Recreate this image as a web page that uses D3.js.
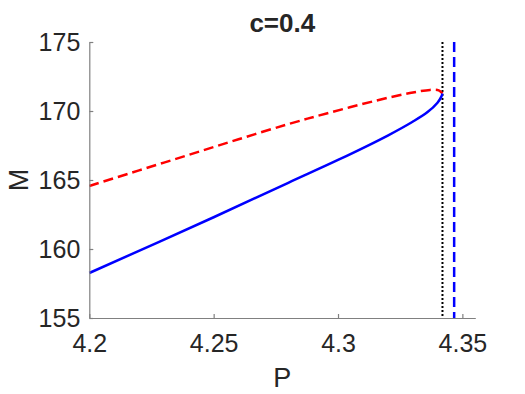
<!DOCTYPE html>
<html>
<head>
<meta charset="utf-8">
<script src="https://cdn.jsdelivr.net/npm/d3@7"></script>
<style>
    body { margin: 0; background: #fff; }
    svg text { font-family: "Liberation Sans", Arial, sans-serif; fill: #262626; }
</style>
</head>
<body>
<div id="chart"></div>
<script>
// values
var TITLE = 'c=0.4',
    X_LABEL = 'P',
    Y_LABEL = 'M';

var x_ticks = [4.2, 4.25, 4.3, 4.35],
    y_ticks = [155, 160, 165, 170, 175];

// unstable branch (red dashed)
var red_p = [4.2, 4.22, 4.24, 4.26, 4.28, 4.2954, 4.3155, 4.3289, 4.337, 4.3405, 4.342],
    red_m = [164.57, 165.7, 166.82, 167.95, 169.05, 169.82, 170.76, 171.3, 171.53, 171.5, 171.27];

// stable branch (blue solid)
var blue_p = [4.2, 4.25, 4.28, 4.30, 4.32, 4.33, 4.336, 4.34, 4.3415, 4.342],
    blue_m = [158.26, 162.3, 164.8, 166.45, 168.22, 169.22, 169.92, 170.6, 171.02, 171.27];

// vertical markers
var fold_p = 4.342,
    hopf_p = 4.3467;

var WIDTH = 525, HEIGHT = 394,
    margin = { left: 89.3, right: 49.7, top: 42, bottom: 76 };

var svg = d3.select('#chart').append('svg')
    .attr('width', WIDTH)
    .attr('height', HEIGHT);

var x = d3.scaleLinear().domain([4.2, 4.3552]).range([margin.left, WIDTH - margin.right]);
var y = d3.scaleLinear().domain([155, 175]).range([HEIGHT - margin.bottom, margin.top]);

var line = d3.line()
    .x(function(d){ return x(d[0]); })
    .y(function(d){ return y(d[1]); })
    .curve(d3.curveCatmullRom);

// vertical lines
svg.append('line')
    .attr('x1', x(fold_p)).attr('x2', x(fold_p))
    .attr('y1', y(175)).attr('y2', y(155))
    .attr('stroke', '#000')
    .attr('stroke-width', 2)
    .attr('stroke-dasharray', '2,2');

svg.append('line')
    .attr('x1', x(hopf_p)).attr('x2', x(hopf_p))
    .attr('y1', y(175)).attr('y2', y(155))
    .attr('stroke', '#0000ff')
    .attr('stroke-width', 2.5)
    .attr('stroke-dasharray', '10,5');

// branches
svg.append('path')
    .datum(d3.zip(red_p, red_m))
    .attr('d', line)
    .attr('fill', 'none')
    .attr('stroke', '#ff0000')
    .attr('stroke-width', 2.5)
    .attr('stroke-dasharray', '10,5');

svg.append('path')
    .datum(d3.zip(blue_p, blue_m))
    .attr('d', line)
    .attr('fill', 'none')
    .attr('stroke', '#0000ff')
    .attr('stroke-width', 2.5);

// axes
var x_axis = d3.axisBottom(x).tickValues(x_ticks).tickSizeInner(-4).tickSizeOuter(0)
    .tickFormat(function(d){ return String(+d.toFixed(2)); });
var y_axis = d3.axisLeft(y).tickValues(y_ticks).tickSizeInner(-4).tickSizeOuter(0);

var gx = svg.append('g')
    .attr('transform', 'translate(0,' + (HEIGHT - margin.bottom) + ')')
    .call(x_axis);
var gy = svg.append('g')
    .attr('transform', 'translate(' + margin.left + ',0)')
    .call(y_axis);

[gx, gy].forEach(function(g){
    g.select('.domain').attr('stroke', '#808080').attr('stroke-width', 1.2);
    g.selectAll('.tick line').attr('stroke', '#808080').attr('stroke-width', 1.2);
    g.selectAll('.tick text')
        .attr('font-size', 25)
        .attr('font-family', '"Liberation Sans", Arial, sans-serif')
        .attr('fill', '#262626');
});
gx.selectAll('.tick text').attr('dy', null).attr('y', 34);
gy.selectAll('.tick text').attr('x', -9).attr('dy', '0.35em');

// title and labels
svg.append('text')
    .attr('x', (x.range()[0] + x.range()[1]) / 2)
    .attr('y', 32)
    .attr('text-anchor', 'middle')
    .attr('font-size', 26)
    .attr('font-weight', 'bold')
    .text(TITLE);

svg.append('text')
    .attr('x', (x.range()[0] + x.range()[1]) / 2)
    .attr('y', 387)
    .attr('text-anchor', 'middle')
    .attr('font-size', 27)
    .text(X_LABEL);

svg.append('text')
    .attr('transform', 'translate(28,' + ((y.range()[0] + y.range()[1]) / 2) + ')rotate(-90)')
    .attr('text-anchor', 'middle')
    .attr('font-size', 27)
    .text(Y_LABEL);
</script>
</body>
</html>
